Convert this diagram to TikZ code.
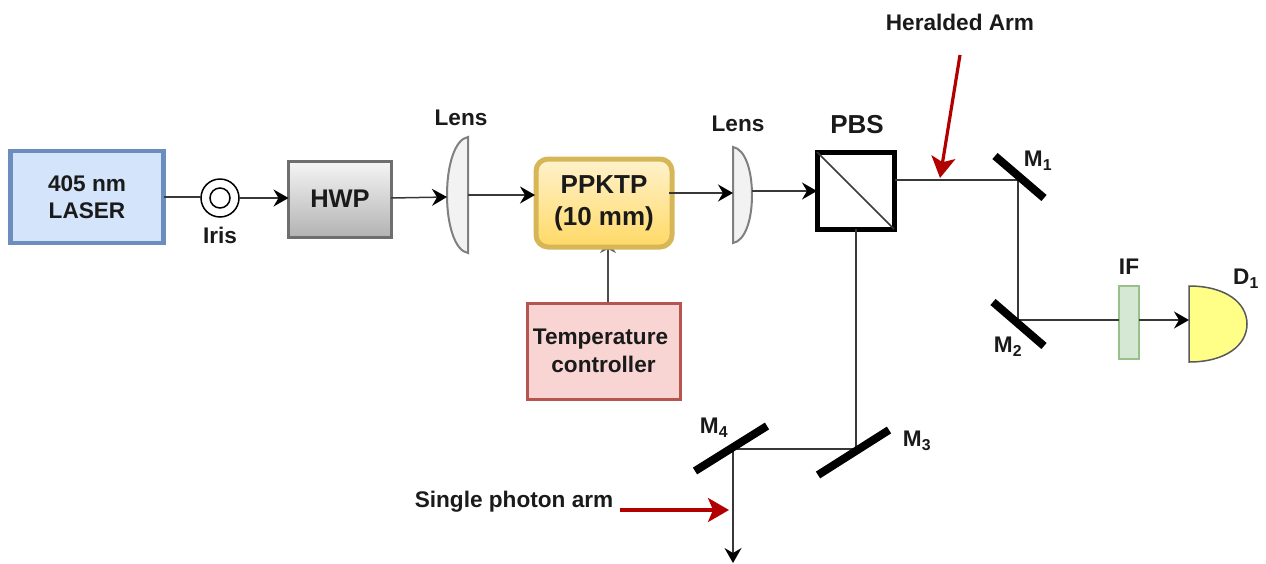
\documentclass[tikz,border=0pt]{standalone}
\usepackage{fontspec}
\setmainfont{Liberation Sans}
\usetikzlibrary{arrows.meta}
\definecolor{laserline}{HTML}{6C8EBF}
\definecolor{laserfill}{HTML}{D4E4FA}
\definecolor{hwpline}{HTML}{6E6E6E}
\definecolor{goldline}{HTML}{D6B656}
\definecolor{goldtop}{HTML}{FFF2CC}
\definecolor{goldbot}{HTML}{FFD966}
\definecolor{templine}{HTML}{B85450}
\definecolor{tempfill}{HTML}{F8D5D3}
\definecolor{ifline}{HTML}{97C08A}
\definecolor{iffill}{HTML}{D5E8D4}
\definecolor{detfill}{HTML}{FFFF88}
\definecolor{arrowred}{HTML}{B20000}
\definecolor{ink}{HTML}{1A1A1A}
\tikzset{
  lbl/.style={font=\fontsize{22.6}{27}\selectfont\bfseries, text=ink, inner sep=0pt, outer sep=0pt, align=center},
  biglbl/.style={lbl, font=\fontsize{26}{32}\selectfont\bfseries},
  boxbase/.style={lbl, draw, outer sep=0pt, inner sep=0pt},
  beam/.style={draw=black!78, line width=1.5pt},
  beamarrow/.style={beam, -{Stealth[length=15pt,width=17pt,inset=5pt,black]}},
  redarrow/.style={draw=arrowred, line width=3.2pt, -{Stealth[length=21pt,width=24pt,inset=5pt,arrowred]}},
  mirror/.style={draw=black, line width=8pt},
  lensshape/.style={draw=black!50, fill=black!5, line width=2pt},
  anchorbox/.style={inner sep=0pt, outer sep=0pt},
}
\begin{document}
\begin{tikzpicture}[x=1pt,y=-1pt]
\useasboundingbox (0,0) rectangle (1266,563);
% temperature link, its arrow tip almost hidden under the crystal
\coordinate (ppb) at (608,241);
\coordinate (tempt) at (608,303);
\draw[beam, draw=black!70, -{Stealth[length=12pt,width=16pt,inset=4pt,black!60]}] (tempt) -- (ppb);
% boxes
\node[boxbase, draw=laserline, fill=laserfill, line width=4.5pt, minimum width=153pt, minimum height=92pt, font=\fontsize{22.6}{27.5}\selectfont\bfseries] (laser) at (87,197) {405 nm\\LASER};
\node[draw=black, line width=1.5pt, circle, minimum size=38pt, inner sep=0pt, outer sep=0pt] (iris) at (220,198) {};
\node[draw=black, line width=1.5pt, circle, minimum size=20pt, inner sep=0pt, outer sep=0pt] (irisin) at (220,198) {};
\node[boxbase, draw=hwpline, top color=black!4, bottom color=black!30, line width=3pt, minimum width=103pt, minimum height=76pt, font=\fontsize{25.5}{30}\selectfont\bfseries] (hwp) at (340,199) {HWP};
\node[boxbase, draw=goldline, top color=goldtop, bottom color=goldbot, line width=5pt, rounded corners=12pt, minimum width=136pt, minimum height=88pt, biglbl] (ppktp) at (604,203) {PPKTP\\(10 mm)};
\node[boxbase, draw=templine, fill=tempfill, line width=3pt, minimum width=153pt, minimum height=96pt, font=\fontsize{22.6}{28.5}\selectfont\bfseries] (temp) at (603.5,351) {\hspace*{-6pt}Temperature\\controller};
\node[boxbase, draw=black, fill=white, line width=5pt, minimum width=77pt, minimum height=77pt] (pbs) at (855.5,190.5) {};
\draw[beam] (pbs.north west) -- (pbs.south east);
\node[boxbase, draw=ifline, fill=iffill, line width=2pt, minimum width=20pt, minimum height=73pt] (if) at (1129,322.5) {};
% lenses
\node[anchorbox, minimum width=21pt, minimum height=116pt] (lensa) at (457.5,195) {};
\draw[lensshape] (lensa.north east) .. controls (455,139) and (447,165) .. (lensa.west) .. controls (447,225) and (455,251) .. (lensa.south east) -- cycle;
\node[anchorbox, minimum width=19pt, minimum height=96pt] (lensb) at (742.5,195) {};
\draw[lensshape] (lensb.north west) .. controls (745,149) and (752,170) .. (lensb.east) .. controls (752,220) and (745,241) .. (lensb.south west) -- cycle;
% detector
\node[anchorbox, minimum width=58pt, minimum height=76pt] (det) at (1218,324) {};
\draw[draw=black!65, fill=detfill, line width=1.5pt] (det.north west) .. controls (1226,286) and (1247,303) .. (det.east) .. controls (1247,345) and (1226,362) .. (det.south west) -- cycle;
% mirror hit points
\coordinate (m1b) at (1018,180);
\coordinate (m2b) at (1018,320);
\coordinate (m3) at (856,449);
\coordinate (m4) at (733,449);
\coordinate (pbsr) at (895,180);
\coordinate (pbsb) at (856,229);
\coordinate (endd) at (733,563);
\coordinate (hwpr) at (391,198);
\coordinate (lensain) at (447,197);
\coordinate (lensaout) at (468,195);
\coordinate (ppin) at (535,195);
\coordinate (ppout) at (669,193);
\coordinate (lensbin) at (733,193);
\coordinate (lensbout) at (752,191);
\coordinate (pbsin) at (817,191);
\coordinate (ifin) at (1119,320);
\coordinate (ifout) at (1139,320);
\coordinate (detin) at (1189,320);
% beams
\draw[beam] (laser.east) -- (iris.west |- laser.east);
\draw[beamarrow] (iris.east) -- (hwp.west |- iris.east);
\draw[beamarrow] (hwpr) -- (lensain);
\draw[beamarrow] (lensaout) -- (ppin);
\draw[beamarrow] (ppout) -- (lensbin);
\draw[beamarrow] (lensbout) -- (pbsin);
\draw[beam] (pbsr) -- (m1b) -- (m2b) -- (ifin);
\draw[beamarrow] (ifout) -- (detin);
\draw[beam] (pbsb) -- (m3) -- (m4);
\draw[beamarrow] (m4) -- (endd);
% mirrors
\coordinate (m1a) at (995,156); \coordinate (m1c) at (1044,198);
\coordinate (m2a) at (993,302); \coordinate (m2c) at (1044,346);
\coordinate (m3a) at (818,475); \coordinate (m3c) at (889,430);
\coordinate (m4a) at (695,471); \coordinate (m4c) at (767,426);
\draw[mirror] (m1a) -- (m1c);
\draw[mirror] (m2a) -- (m2c);
\draw[mirror] (m3a) -- (m3c);
\draw[mirror] (m4a) -- (m4c);
% labels
\node[lbl] (tiris) at (220,235) {Iris};
\node[lbl] (tlensa) at (461,118) {Lens};
\node[lbl] (tlensb) at (738,124) {Lens};
\node[biglbl] (tpbs) at (857,125) {PBS};
\node[lbl] (theralded) at (960,22) {Heralded Arm};
\node[lbl] (tsingle) at (514,502) {Single photon arm};
\node[lbl] (tif) at (1129,267) {IF};
\node[lbl] (tm1) at (1038,161) {M\textsubscript{1}};
\node[lbl] (tm2) at (1008,347) {M\textsubscript{2}};
\node[lbl] (tm3) at (917,441) {M\textsubscript{3}};
\node[lbl] (tm4) at (714,428) {M\textsubscript{4}};
\node[lbl] (td1) at (1246,279) {D\textsubscript{1}};
% red arrows
\coordinate (ha) at (960,55); \coordinate (hb) at (940,178);
\coordinate (sa) at (620,510); \coordinate (sb) at (729,510);
\draw[redarrow] (ha) -- (hb);
\draw[redarrow] (sa) -- (sb);
\end{tikzpicture}
\end{document}
